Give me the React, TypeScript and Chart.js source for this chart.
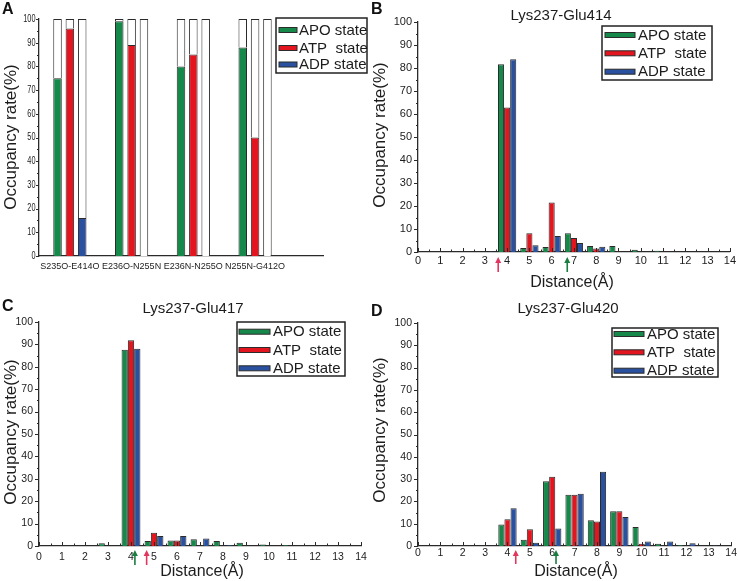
import React, { useEffect, useRef } from 'react';
import { Chart, registerables } from 'chart.js';

Chart.register(...registerables);

const PAGE_W = 738;
const PAGE_H = 581;
const FONT = '"Liberation Sans", Arial, Helvetica, sans-serif';
const TEXT = '#1c1c1c';
const AXIS = '#2a2a2a';
const EDGE = '#2b2b2b';

// ---------- shared data ----------
const seriesNames = ['APO state', 'ATP  state', 'ADP state'];
const seriesColors = ['#16894a', '#e3151f', '#2a50a0'];
const percentTicks = [0, 10, 20, 30, 40, 50, 60, 70, 80, 90, 100];
const percentMinor = [5, 15, 25, 35, 45, 55, 65, 75, 85, 95];
const distanceTicks = [0, 1, 2, 3, 4, 5, 6, 7, 8, 9, 10, 11, 12, 13, 14];
const distanceMinor = [0.5, 1.5, 2.5, 3.5, 4.5, 5.5, 6.5, 7.5, 8.5, 9.5, 10.5, 11.5, 12.5, 13.5];
const arrowColors: Record<string, string> = { APO: '#1b7d40', ATP: '#e2365f' };

// ---------- panel A ----------
const pairLabels = ['S235O-E414O', 'E236O-N255N', 'E236N-N255O', 'N255N-G412O'];
const pairPositions = [1, 2, 3, 4];
const occApo = [75, 99, 80, 88];
const occAtp = [96, 89, 85, 50];
const occAdp = [16, 0, 0, 0];
const occTotal = 100;

// ---------- panel B ----------
const titleB = 'Lys237-Glu414';
const distB = [3, 4, 5, 6, 7, 8, 9, 10, 11];
const apoB = [0, 81.6, 1.7, 2.2, 8.1, 2.6, 2.6, 1.0, 0.5];
const atpB = [0, 62.8, 8.1, 21.5, 6.1, 1.5, 0.2, 0, 0];
const adpB = [0.3, 83.8, 2.9, 7.0, 3.9, 2.3, 0, 0, 0];
const arrowDistB = [3.6, 6.7];
const arrowKeyB = ['ATP', 'APO'];

// ---------- panel C ----------
const titleC = 'Lys237-Glu417';
const distC = [3, 4, 5, 6, 7, 8, 9, 10, 11];
const apoC = [1.2, 87.6, 2.2, 2.4, 3.0, 2.2, 1.5, 0.7, 0.4];
const atpC = [0, 91.8, 5.9, 2.4, 0, 0, 0, 0, 0];
const adpC = [0, 88.1, 4.5, 4.5, 3.4, 0.4, 0, 0, 0];
const arrowDistC = [4.17, 4.68];
const arrowKeyC = ['APO', 'ATP'];

// ---------- panel D ----------
const titleD = 'Lys237-Glu420';
const distD = [3, 4, 5, 6, 7, 8, 9, 10, 11, 12, 13];
const apoD = [0, 9.6, 2.8, 29.0, 23.0, 11.5, 15.6, 8.5, 1.0, 0.4, 0];
const atpD = [0, 12.0, 7.5, 31.0, 23.0, 11.0, 15.6, 1.0, 0, 0, 0];
const adpD = [0.2, 16.9, 1.5, 7.9, 23.4, 33.3, 13.0, 2.0, 2.0, 1.2, 0.3];
const arrowDistD = [4.37, 6.17];
const arrowKeyD = ['ATP', 'APO'];

// ---------- layout (positions / sizes only) ----------
type Area = { l: number; t: number; r: number; b: number };
type LegendSpec = { x: number; y: number; w: number; h: number; rows: number[]; symX: number; symW: number; symH: number; textX: number };
type PanelSpec = {
  letter: string;
  letterPos: [number, number];
  title?: string;
  titlePos?: [number, number];
  yTitlePos: [number, number];
  xTitlePos?: [number, number];
  legend: LegendSpec;
  yTickLen: [number, number];
  xTicks?: boolean;
  condensedY?: { size: number; scale: number; gap: number };
  arrows?: { values: number[]; keys: string[]; top: number; bottom: number };
};

const areaA: Area = { l: 39, t: 19, r: 323, b: 256 };
const areaB: Area = { l: 418, t: 22, r: 732, b: 252 };
const areaC: Area = { l: 39, t: 322, r: 361, b: 546 };
const areaD: Area = { l: 418, t: 323, r: 732, b: 546 };

function frame(area: Area, yw: number, xh: number) {
  return {
    responsive: false,
    animation: false as const,
    devicePixelRatio: 1,
    events: [] as any[],
    layout: {
      padding: { left: area.l - yw, top: area.t, right: PAGE_W - area.r, bottom: PAGE_H - area.b - xh },
    },
    plugins: { legend: { display: false }, tooltip: { enabled: false }, title: { display: false } },
  };
}

function drawLegend(ctx: CanvasRenderingContext2D, lg: LegendSpec) {
  ctx.save();
  ctx.fillStyle = '#ffffff';
  ctx.fillRect(lg.x, lg.y, lg.w, lg.h);
  ctx.strokeStyle = '#222';
  ctx.lineWidth = 1.5;
  ctx.strokeRect(lg.x, lg.y, lg.w, lg.h);
  ctx.font = `15px ${FONT}`;
  ctx.textBaseline = 'middle';
  ctx.textAlign = 'left';
  seriesNames.forEach((name, i) => {
    const y = lg.rows[i];
    ctx.fillStyle = seriesColors[i];
    ctx.fillRect(lg.symX, y - lg.symH / 2, lg.symW, lg.symH);
    ctx.strokeStyle = EDGE;
    ctx.lineWidth = 1;
    ctx.strokeRect(lg.symX, y - lg.symH / 2, lg.symW, lg.symH);
    ctx.fillStyle = TEXT;
    ctx.fillText(name, lg.textX, y + 0.5);
  });
  ctx.restore();
}

function decor(spec: PanelSpec) {
  return {
    id: 'decor' + spec.letter,
    afterDraw(chart: any) {
      const ctx: CanvasRenderingContext2D = chart.ctx;
      const { left, bottom } = chart.chartArea;
      const xs = chart.scales.x;
      const ys = chart.scales.y;
      ctx.save();
      ctx.strokeStyle = AXIS;
      ctx.lineWidth = 1;
      // y ticks (outward)
      percentTicks.forEach((v) => {
        const y = Math.round(ys.getPixelForValue(v)) + 0.5;
        ctx.beginPath();
        ctx.moveTo(left - spec.yTickLen[0], y);
        ctx.lineTo(left, y);
        ctx.stroke();
      });
      percentMinor.forEach((v) => {
        const y = Math.round(ys.getPixelForValue(v)) + 0.5;
        ctx.beginPath();
        ctx.moveTo(left - spec.yTickLen[1], y);
        ctx.lineTo(left, y);
        ctx.stroke();
      });
      // condensed y tick labels (panel A)
      if (spec.condensedY) {
        const cy = spec.condensedY;
        ctx.fillStyle = TEXT;
        ctx.font = `${cy.size}px ${FONT}`;
        ctx.textAlign = 'right';
        ctx.textBaseline = 'middle';
        percentTicks.forEach((v) => {
          const y = ys.getPixelForValue(v);
          ctx.save();
          ctx.translate(left - cy.gap, y);
          ctx.scale(cy.scale, 1);
          ctx.fillText(String(v), 0, 0);
          ctx.restore();
        });
      }
      if (spec.xTicks) {
        distanceTicks.forEach((v) => {
          const x = Math.round(xs.getPixelForValue(v)) + 0.5;
          ctx.beginPath();
          ctx.moveTo(x, bottom);
          ctx.lineTo(x, bottom - 4);
          ctx.stroke();
        });
        distanceMinor.forEach((v) => {
          const x = Math.round(xs.getPixelForValue(v)) + 0.5;
          ctx.beginPath();
          ctx.moveTo(x, bottom);
          ctx.lineTo(x, bottom - 2.5);
          ctx.stroke();
        });
      }
      // panel letter
      ctx.fillStyle = '#111';
      ctx.font = `bold 16px ${FONT}`;
      ctx.textAlign = 'left';
      ctx.textBaseline = 'alphabetic';
      ctx.fillText(spec.letter, spec.letterPos[0], spec.letterPos[1]);
      // title
      ctx.fillStyle = TEXT;
      if (spec.title && spec.titlePos) {
        ctx.font = `15px ${FONT}`;
        ctx.textAlign = 'center';
        ctx.textBaseline = 'middle';
        ctx.fillText(spec.title, spec.titlePos[0], spec.titlePos[1]);
      }
      // x title
      if (spec.xTitlePos) {
        ctx.font = `16px ${FONT}`;
        ctx.textAlign = 'center';
        ctx.textBaseline = 'middle';
        ctx.fillText('Distance(Å)', spec.xTitlePos[0], spec.xTitlePos[1]);
      }
      // y title
      ctx.save();
      ctx.translate(spec.yTitlePos[0], spec.yTitlePos[1]);
      ctx.rotate(-Math.PI / 2);
      ctx.font = `17px ${FONT}`;
      ctx.textAlign = 'center';
      ctx.textBaseline = 'middle';
      ctx.fillText('Occupancy rate(%)', 0, 0);
      ctx.restore();
      // arrows
      if (spec.arrows) {
        const a = spec.arrows;
        a.values.forEach((v, i) => {
          const x = xs.getPixelForValue(v);
          const c = arrowColors[a.keys[i]];
          ctx.strokeStyle = c;
          ctx.fillStyle = c;
          ctx.lineWidth = 1.6;
          ctx.beginPath();
          ctx.moveTo(x, a.bottom);
          ctx.lineTo(x, a.top + 4);
          ctx.stroke();
          ctx.beginPath();
          ctx.moveTo(x, a.top);
          ctx.lineTo(x - 3, a.top + 6);
          ctx.lineTo(x + 3, a.top + 6);
          ctx.closePath();
          ctx.fill();
        });
      }
      drawLegend(ctx, spec.legend);
      ctx.restore();
    },
  };
}

function yScale(yw: number, size: number, pad: number, stacked: boolean, showLabels: boolean) {
  return {
    type: 'linear' as const,
    min: 0,
    max: 100,
    stacked,
    afterFit: (s: any) => {
      s.width = yw;
    },
    afterBuildTicks: (s: any) => {
      s.ticks = percentTicks.map((v) => ({ value: v }));
    },
    grid: { display: false, drawTicks: false },
    border: { display: true, color: AXIS, width: 1.3 },
    ticks: { display: showLabels, padding: pad, color: TEXT, font: { family: FONT, size } },
  };
}

function buildA(canvas: HTMLCanvasElement) {
  const yw = 30;
  const xh = 25;
  const mk = (vals: number[]) => pairPositions.map((p, i) => ({ x: p, y: vals[i] > 0 ? vals[i] : null }));
  const rest = (vals: number[]) => pairPositions.map((p, i) => ({ x: p, y: occTotal - vals[i] }));
  const common = { borderColor: EDGE, borderWidth: 1, categoryPercentage: 0.6, barPercentage: 0.69 };
  const series = [occApo, occAtp, occAdp];
  const datasets: any[] = [];
  series.forEach((vals, i) => {
    datasets.push({ ...common, label: seriesNames[i], data: mk(vals), backgroundColor: seriesColors[i], stack: 's' + i });
    datasets.push({ ...common, label: 'rest' + i, data: rest(vals), backgroundColor: '#ffffff', stack: 's' + i });
  });
  const spec: PanelSpec = {
    letter: 'A',
    letterPos: [2, 13.5],
    yTitlePos: [11, 137],
    legend: { x: 276, y: 18, w: 91, h: 55, rows: [30, 48, 64.5], symX: 279, symW: 18, symH: 5, textX: 299 },
    yTickLen: [3, 2],
    condensedY: { size: 10.5, scale: 0.7, gap: 3.5 },
  };
  return new Chart(canvas, {
    type: 'bar',
    data: { datasets },
    options: {
      ...frame(areaA, yw, xh),
      scales: {
        x: {
          type: 'linear',
          min: 0.5,
          max: 5.1,
          offset: false,
          afterFit: (s: any) => {
            s.height = xh;
          },
          afterBuildTicks: (s: any) => {
            s.ticks = pairPositions.map((v) => ({ value: v }));
          },
          grid: { display: false, drawTicks: false, offset: false },
          border: { display: true, color: AXIS, width: 1.3 },
          ticks: {
            padding: 5,
            color: TEXT,
            font: { family: FONT, size: 9 },
            maxRotation: 0,
            autoSkip: false,
            callback: (v: any) => pairLabels[pairPositions.indexOf(v)] ?? '',
          },
        },
        y: yScale(yw, 9.5, 3, true, false),
      },
    } as any,
    plugins: [decor(spec)],
  });
}

function buildHist(
  canvas: HTMLCanvasElement,
  area: Area,
  dist: number[],
  vals: number[][],
  spec: PanelSpec,
  tickSize: number,
  xPad: number
) {
  const yw = 30;
  const xh = 25;
  const datasets = vals.map((v, i) => ({
    label: seriesNames[i],
    data: dist.map((d, j) => ({ x: d, y: v[j] > 0 ? v[j] : null })),
    backgroundColor: seriesColors[i],
    borderColor: EDGE,
    borderWidth: 1,
    categoryPercentage: 0.82,
    barPercentage: 1,
  }));
  return new Chart(canvas, {
    type: 'bar',
    data: { datasets },
    options: {
      ...frame(area, yw, xh),
      scales: {
        x: {
          type: 'linear',
          min: 0,
          max: 14,
          offset: false,
          afterFit: (s: any) => {
            s.height = xh;
          },
          afterBuildTicks: (s: any) => {
            s.ticks = distanceTicks.map((v) => ({ value: v }));
          },
          grid: { display: false, drawTicks: false, offset: false },
          border: { display: true, color: AXIS, width: 1.3 },
          ticks: { padding: xPad, color: TEXT, font: { family: FONT, size: tickSize }, maxRotation: 0, autoSkip: false },
        },
        y: yScale(yw, tickSize, 6, false, true),
      },
    } as any,
    plugins: [decor(spec)],
  });
}

const buildB = (c: HTMLCanvasElement) =>
  buildHist(
    c,
    areaB,
    distB,
    [apoB, atpB, adpB],
    {
      letter: 'B',
      letterPos: [371, 13.5],
      title: titleB,
      titlePos: [561, 16],
      yTitlePos: [380, 135],
      xTitlePos: [572, 283],
      legend: { x: 602, y: 26, w: 110, h: 54, rows: [35, 53.3, 71.7], symX: 605, symW: 30, symH: 5, textX: 638 },
      yTickLen: [4, 2],
      xTicks: true,
      arrows: { values: arrowDistB, keys: arrowKeyB, top: 257, bottom: 272 },
    },
    11,
    2
  );

const buildC = (c: HTMLCanvasElement) =>
  buildHist(
    c,
    areaC,
    distC,
    [apoC, atpC, adpC],
    {
      letter: 'C',
      letterPos: [2, 311],
      title: titleC,
      titlePos: [193, 309],
      yTitlePos: [11, 432],
      xTitlePos: [202, 572],
      legend: { x: 237, y: 322, w: 108, h: 54, rows: [331.7, 350, 368.3], symX: 239, symW: 31, symH: 5, textX: 273 },
      yTickLen: [4, 2],
      xTicks: true,
      arrows: { values: arrowDistC, keys: arrowKeyC, top: 550, bottom: 565 },
    },
    10.5,
    5
  );

const buildD = (c: HTMLCanvasElement) =>
  buildHist(
    c,
    areaD,
    distD,
    [apoD, atpD, adpD],
    {
      letter: 'D',
      letterPos: [371, 316],
      title: titleD,
      titlePos: [568, 309],
      yTitlePos: [380, 430],
      xTitlePos: [576, 572],
      legend: { x: 612, y: 328, w: 106, h: 49, rows: [334, 352.3, 370.7], symX: 614, symW: 30, symH: 5, textX: 647 },
      yTickLen: [4, 2],
      xTicks: true,
      arrows: { values: arrowDistD, keys: arrowKeyD, top: 550, bottom: 564 },
    },
    10.5,
    1
  );

function ChartCanvas({ build }: { build: (c: HTMLCanvasElement) => Chart }) {
  const ref = useRef<HTMLCanvasElement>(null);
  useEffect(() => {
    const chart = build(ref.current as HTMLCanvasElement);
    return () => chart.destroy();
  }, [build]);
  return (
    <canvas
      ref={ref}
      width={PAGE_W}
      height={PAGE_H}
      style={{ position: 'absolute', left: 0, top: 0, width: PAGE_W, height: PAGE_H }}
    />
  );
}

export default function App() {
  return (
    <div style={{ position: 'fixed', left: 0, top: 0, width: PAGE_W, height: PAGE_H, background: '#ffffff', overflow: 'hidden' }}>
      <ChartCanvas build={buildA} />
      <ChartCanvas build={buildB} />
      <ChartCanvas build={buildC} />
      <ChartCanvas build={buildD} />
    </div>
  );
}
